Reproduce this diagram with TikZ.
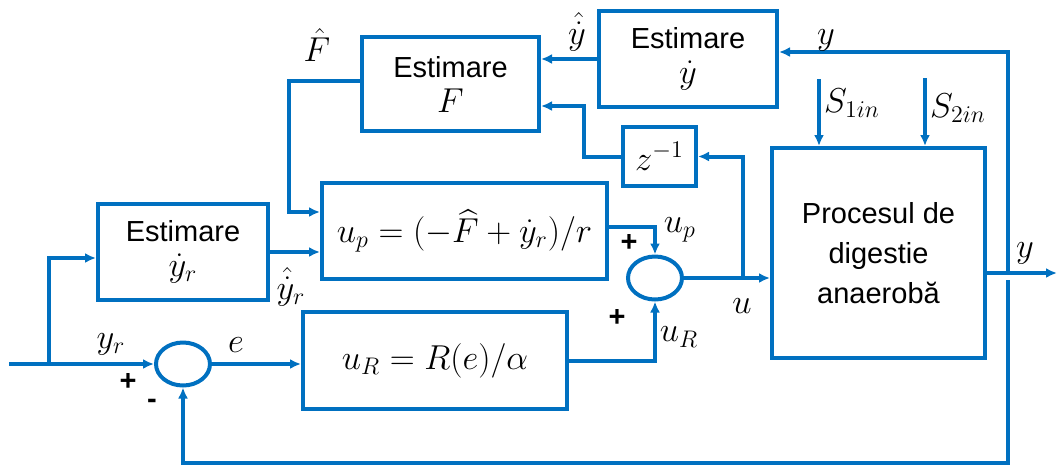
\documentclass[tikz,border=0pt]{standalone}
\usepackage{amsmath, amssymb}
\usepackage{fontspec}
\setmainfont{Liberation Sans}
% math a bit larger than the text, as in the drawing
\DeclareMathSizes{14.5}{16.3}{11.5}{9}
\usepackage{tikz}
\usetikzlibrary{
  calc,%
  % ellipse for the summing points
  shapes.geometric,%
  arrows.meta,
  positioning
}
\definecolor{lineblue}{RGB}{0,112,192}
\tikzset{>={Latex[length=5.5pt,width=5pt]}}
\tikzset{font=\fontsize{14.5}{17.5}\selectfont}
\tikzset{
  blk/.style={draw=lineblue, line width=2pt, align=center, inner sep=0pt},
  sumpt/.style={ellipse, draw=lineblue, line width=2pt, minimum width=27pt,
    minimum height=21.5pt, inner sep=0pt},
  conn/.style={draw=lineblue, line width=2pt},
  lbl/.style={inner sep=0pt}
}

\begin{document}
\begin{tikzpicture}[x=0.5pt, y=-0.5pt]
        \useasboundingbox (0, 0) rectangle (1057, 468); %
        % blocks
        \node[blk, minimum width=89pt, minimum height=48pt] (estY) at (688, 59)
          {Estimare\\ $\dot{y}$}; %
        \node[blk, minimum width=88.5pt, minimum height=47pt] (estF) at (450.5, 84)
          {Estimare\\ $F$}; %
        \node[blk, minimum width=36.5pt, minimum height=29.5pt] (zinv) at (659.5, 156.5)
          {$z^{-1}$}; %
        \node[blk, minimum width=142.5pt, minimum height=48pt] (up) at (464.5, 231)
          {$u_p = (-\widehat{F} + \dot{y}_r)/r$}; %
        \node[blk, minimum width=85pt, minimum height=48pt] (estYr) at (183, 252)
          {Estimare\\ $\dot{y}_r$}; %
        \node[blk, minimum width=132pt, minimum height=48.5pt] (uR) at (435, 360.5)
          {$u_R = R(e)/\alpha$}; %
        \node[blk, minimum width=106.5pt, minimum height=105pt,
          font=\fontsize{14.5}{20}\selectfont] (proc) at (878.5, 253)
          {Procesul de\\ digestie\\ anaerobă}; %
        \node[sumpt] (sum1) at (183, 364) {}; %
        \node[sumpt] (sum2) at (655, 278) {}; %
        % free ends
        \coordinate (in) at (9, 364); %
        \coordinate (br) at (49, 364); %
        \coordinate (ubr) at (743, 278); %
        \coordinate (yout) at (1057, 273); %
        \coordinate (ytap) at (1008, 273); %
        \coordinate (ytop) at (1008, 52); %
        \coordinate (ylow) at (1008, 280); %
        \coordinate (ybot) at (1008, 463); %
        \coordinate (s1) at (819, 79); %
        \coordinate (s2) at (925, 78); %
        % connectors
        \draw[conn, ->] (in) -- (sum1.west); %
        \draw[conn, ->] (br) |- ([yshift=-3pt]estYr.west); %
        \draw[conn, ->] (sum1.east) -- (sum1.east -| uR.west); %
        \draw[conn, ->] (estYr.east) -- (estYr.east -| up.west); %
        \draw[conn, ->] ([yshift=1.5pt]estF.west) -- ++(-71, 0)
          |- ([yshift=9.5pt]up.west); %
        \draw[conn, ->] (estY.west) -- (estY.west -| estF.east); %
        \draw[conn, ->] (zinv.west) -- ++(-37, 0) |- ([yshift=-11pt]estF.east); %
        \draw[conn, ->] (ubr) |- (zinv.east); %
        \draw[conn, ->] ([yshift=2pt]up.east) -| (sum2.north); %
        \draw[conn, ->] (uR.east) -| (sum2.south); %
        \draw[conn, ->] (sum2.east) -- (sum2.east -| proc.west); %
        \draw[conn, ->] (proc.east |- yout) -- (yout); %
        \draw[conn, ->] (ytap) -- (ytop) -- (ytop -| estY.east); %
        \draw[conn, ->] (ylow) -- (ybot) -- (ybot -| sum1) -- (sum1.south); %
        \draw[conn, ->] (s1) -- (s1 |- proc.north); %
        \draw[conn, ->] (s2) -- (s2 |- proc.north); %
        % labels
        \node[lbl] (lFhat) at (317, 45) {$\hat{F}$}; %
        \node[lbl] (lydhat) at (577, 32) {$\hat{\dot{y}}$}; %
        \node[lbl] (lytop) at (826, 40) {$y$}; %
        \node[lbl] (lS1) at (852, 103) {$S_{1in}$}; %
        \node[lbl] (lS2) at (958, 108) {$S_{2in}$}; %
        \node[lbl] (lyrdhat) at (291, 287) {$\hat{\dot{y}}_r$}; %
        \node[lbl] (lyr) at (111, 344) {$y_r$}; %
        \node[lbl] (le) at (236, 345) {$e$}; %
        \node[lbl] (lplus1) at (128, 382) {\textbf{+}}; %
        \node[lbl] (lminus1) at (152, 404) {\textbf{-}}; %
        \node[lbl] (lup) at (680, 230) {$u_p$}; %
        \node[lbl] (lplus2) at (629, 243) {\textbf{+}}; %
        \node[lbl] (lplus3) at (617, 318) {\textbf{+}}; %
        \node[lbl] (luR) at (679, 337) {$u_R$}; %
        \node[lbl] (lu) at (742, 306) {$u$}; %
        \node[lbl] (lyout) at (1025, 253) {$y$}; %
      \end{tikzpicture}
\end{document}
